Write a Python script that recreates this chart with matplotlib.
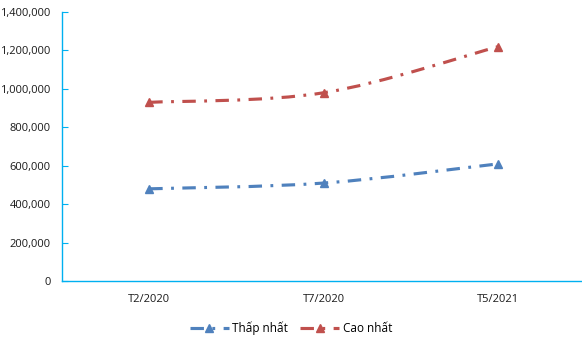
import matplotlib
matplotlib.use("Agg")
import matplotlib.pyplot as plt
from matplotlib.path import Path
from matplotlib.patches import PathPatch
from matplotlib.lines import Line2D
from matplotlib.ticker import FuncFormatter, MultipleLocator

categories = ["T2/2020", "T7/2020", "T5/2021"]
thap_nhat = [480000, 510000, 610000]
cao_nhat = [930000, 980000, 1220000]
series_names = ["Thấp nhất", "Cao nhất"]
colors = ["#4F81BD", "#C0504D"]
axis_color = "#00B0F0"

plt.rcParams['font.family'] = ['Open Sans', 'DejaVu Sans']

fig = plt.figure(figsize=(5.82, 3.44), dpi=100)
ax = fig.add_axes([0.1065, 0.183, 0.8995, 0.782])

lw = 2.25
ls = (0, (4.3, 2.7, 0.9, 2.7))


def smooth_path(xs, ys):
    verts = [(xs[0], ys[0])]
    codes = [Path.MOVETO]
    n = len(xs)
    for i in range(n - 1):
        p0 = (xs[max(i - 1, 0)], ys[max(i - 1, 0)])
        p1 = (xs[i], ys[i])
        p2 = (xs[i + 1], ys[i + 1])
        p3 = (xs[min(i + 2, n - 1)], ys[min(i + 2, n - 1)])
        c1 = (p1[0] + (p2[0] - p0[0]) / 6, p1[1] + (p2[1] - p0[1]) / 6)
        c2 = (p2[0] - (p3[0] - p1[0]) / 6, p2[1] - (p3[1] - p1[1]) / 6)
        verts += [c1, c2, p2]
        codes += [Path.CURVE4] * 3
    return Path(verts, codes)


xs = list(range(len(categories)))
handles = []
for vals, name, c in zip([thap_nhat, cao_nhat], series_names, colors):
    patch = PathPatch(smooth_path(xs, vals), fill=False, edgecolor=c,
                      linewidth=lw, linestyle=ls, capstyle='butt')
    ax.add_patch(patch)
    ax.plot(xs, vals, linestyle='none', marker='^', markersize=6,
            color=c, markeredgecolor=c)
    handles.append(Line2D([], [], color=c, linewidth=lw, linestyle=ls,
                          marker='^', markersize=6, markeredgecolor=c))

ax.set_xlim(-0.5, len(categories) - 0.5)
ax.set_ylim(0, 1400000)
ax.yaxis.set_major_locator(MultipleLocator(200000))
ax.yaxis.set_major_formatter(FuncFormatter(lambda v, p: f"{int(v):,}"))
ax.set_xticks(xs)
ax.set_xticklabels(categories)

for s in ['top', 'right']:
    ax.spines[s].set_visible(False)
for s in ['left', 'bottom']:
    ax.spines[s].set_color(axis_color)
    ax.spines[s].set_linewidth(1.0)

ax.tick_params(axis='y', direction='in', length=4, color=axis_color,
               labelsize=8, labelcolor='#1a1a1a', pad=8)
ax.tick_params(axis='x', length=0, labelsize=8, labelcolor='#1a1a1a', pad=9)

fig.legend(handles, series_names, loc='lower center', ncol=2, frameon=False,
           fontsize=8.5, bbox_to_anchor=(0.5, -0.005), handlelength=3.3,
           columnspacing=1.0, handletextpad=0.3)

fig.savefig("out.png", dpi=100)
